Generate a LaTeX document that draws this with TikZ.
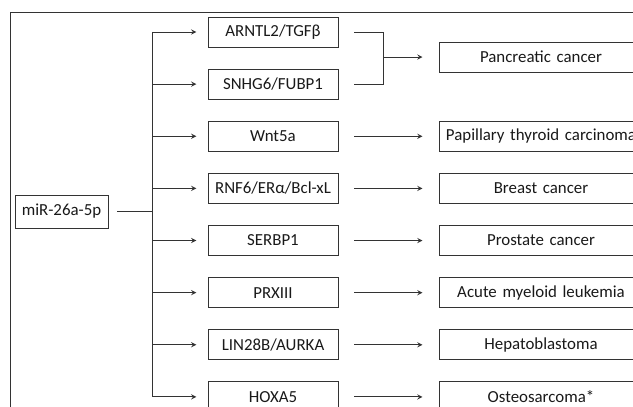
\documentclass[tikz,border=0pt]{standalone}
\usepackage{fontspec}
\setmainfont{Carlito}
\usepackage{tikz}
\usetikzlibrary{shapes.geometric, arrows}
\usetikzlibrary{positioning}
\tikzstyle{mirna} = [rectangle, minimum width=2.325cm, minimum height=0.825cm, text centered, draw=black!80]
\tikzstyle{target} = [rectangle, minimum width=3.25cm, minimum height=0.75cm, text centered, draw=black!80]
\tikzstyle{cancer} = [rectangle, minimum width=5.1cm, minimum height=0.75cm, text width=4.82cm, text centered, draw=black!80]
\tikzstyle{arrow} = [->,>=stealth]

\begin{document}
\begin{tikzpicture}[x=0.025cm, y=-0.025cm, node distance=0.53cm and 2.5cm, line width=0.65pt, draw=black!80, text=black!90, font=\fontsize{12}{14}\selectfont]
  \path[use as bounding box, clip] (0,0) rectangle (633,407);
  \draw (10,12) rectangle (680,440);

  \node (mir) [mirna] at (61.5,211.5) {miR-26a-5p};

  \node (g1) [target] at (273,32) {ARNTL2/TGFβ};
  \node (g2) [target, below=of g1] {SNHG6/FUBP1};
  \node (g3) [target, below=of g2] {Wnt5a};
  \node (g4) [target, below=of g3] {RNF6/ERα/Bcl-xL};
  \node (g5) [target, below=of g4] {SERBP1};
  \node (g6) [target, below=of g5] {PRXIII};
  \node (g7) [target, below=of g6] {LIN28B/AURKA};
  \node (g8) [target, below=of g7] {HOXA5};

  \node (d1) [cancer, right=of g1, yshift=-0.625cm] {Pancreatic cancer};
  \node (d3) [cancer, right=of g3] {\mbox{Papillary thyroid carcinoma}};
  \node (d4) [cancer, right=of g4] {Breast cancer};
  \node (d5) [cancer, right=of g5] {Prostate cancer};
  \node (d6) [cancer, right=of g6] {Acute myeloid leukemia};
  \node (d7) [cancer, right=of g7] {Hepatoblastoma};
  \node (d8) [cancer, right=of g8] {Osteosarcoma*};

  % trunk from miRNA to its targets
  \coordinate (trunk) at ([xshift=1.1cm]mir.east);
  \draw [shorten <=0.22cm] (mir.east) -- (trunk);
  \draw (trunk |- g1.west) -- (trunk |- g8.west);
  \draw [arrow, shorten >=0.28cm] (trunk |- g1.west) -- (g1.west);
  \draw [arrow, shorten >=0.28cm] (trunk |- g2.west) -- (g2.west);
  \draw [arrow, shorten >=0.28cm] (trunk |- g3.west) -- (g3.west);
  \draw [arrow, shorten >=0.28cm] (trunk |- g4.west) -- (g4.west);
  \draw [arrow, shorten >=0.28cm] (trunk |- g5.west) -- (g5.west);
  \draw [arrow, shorten >=0.28cm] (trunk |- g6.west) -- (g6.west);
  \draw [arrow, shorten >=0.28cm] (trunk |- g7.west) -- (g7.west);
  \draw [arrow, shorten >=0.28cm] (trunk |- g8.west) -- (g8.west);

  % targets to cancers
  \coordinate (join) at ([xshift=-1.375cm]d1.west);
  \draw [shorten <=0.4cm] (g1.east) -| (join);
  \draw [shorten <=0.4cm] (g2.east) -| (join);
  \draw [arrow, shorten >=0.4cm] (join) -- (d1.west);
  \draw [arrow, shorten <=0.4cm, shorten >=0.4cm] (g3.east) -- (d3.west);
  \draw [arrow, shorten <=0.4cm, shorten >=0.4cm] (g4.east) -- (d4.west);
  \draw [arrow, shorten <=0.4cm, shorten >=0.4cm] (g5.east) -- (d5.west);
  \draw [arrow, shorten <=0.4cm, shorten >=0.4cm] (g6.east) -- (d6.west);
  \draw [arrow, shorten <=0.4cm, shorten >=0.4cm] (g7.east) -- (d7.west);
  \draw [arrow, shorten <=0.4cm, shorten >=0.4cm] (g8.east) -- (d8.west);

\end{tikzpicture}
\end{document}
